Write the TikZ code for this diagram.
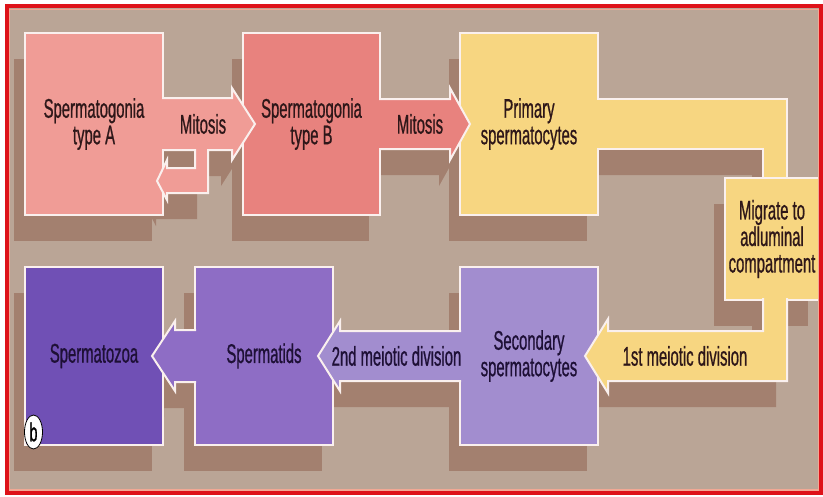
\documentclass[tikz,border=0pt]{standalone}
\usepackage{fontspec}
\newfontfamily\cellfont{Liberation Sans}[FakeStretch=0.55,FakeBold=0.7]
\usetikzlibrary{calc,shapes.geometric}
\pgfdeclarelayer{back}
\pgfsetlayers{back,main}
\definecolor{framered}{HTML}{DE1219}
\definecolor{framepink}{HTML}{F2A894}
\definecolor{groundc}{HTML}{BAA596}
\definecolor{shadowc}{HTML}{A3806F}
\definecolor{edgec}{HTML}{FAF0EE}
\definecolor{typeAc}{HTML}{F09C96}
\definecolor{typeBc}{HTML}{E8827E}
\definecolor{primc}{HTML}{F7D681}
\definecolor{secc}{HTML}{A28DCF}
\definecolor{tidc}{HTML}{8E6DC5}
\definecolor{zoac}{HTML}{7050B5}
\definecolor{inkwarm}{HTML}{2E1719}
\definecolor{inkcool}{HTML}{1E1036}
% block arrow: its shadow on the back layer, then the open outline
\newcommand{\blockarrow}[2]{%
  \begin{pgfonlayer}{back}
    \fill[shadowc,transform canvas={shift={(-11pt,-26pt)}}] #2;
  \end{pgfonlayer}
  \filldraw[outline,fill=#1] #2;}
\begin{document}
\begin{tikzpicture}[x=1pt,y=-1pt,
  cellbox/.style={rectangle,draw=edgec,line width=2pt,outer sep=0pt,inner sep=0pt,
    minimum width=138pt,minimum height=182pt,align=center,text=inkwarm,
    font=\cellfont\fontsize{27}{26.5}\selectfont},
  outline/.style={draw=edgec,line width=2pt,line join=miter},
  steptext/.style={inner sep=0pt,text=inkwarm,font=\cellfont\fontsize{27}{26.5}\selectfont},
  panelmark/.style={ellipse,draw=black,fill=white,line width=0.8pt,inner sep=0pt,
    minimum width=18pt,minimum height=34pt,font=\cellfont\fontsize{26}{26}\selectfont}]
  \useasboundingbox (0,0) rectangle (823,496);
  \begin{pgfonlayer}{back}
    \fill[white] (0,0) rectangle (823,496);
    \fill[groundc] (6,6) rectangle (821,493);
  \end{pgfonlayer}
  % top row
  \node[cellbox,fill=typeAc] (typeA) at (94,124) {Spermatogonia\\type A};
  \node[cellbox,fill=typeBc,minimum width=137pt] (typeB) at (311.5,124) {Spermatogonia\\type B};
  \node[cellbox,fill=primc] (primary) at (529,124) {Primary\\spermatocytes};
  % bottom row
  \node[cellbox,fill=zoac,minimum height=178pt,text=inkcool] (spermatozoa) at (94,356) {Spermatozoa};
  \node[cellbox,fill=tidc,minimum height=178pt,text=inkcool] (spermatids) at (264,356) {Spermatids};
  \node[cellbox,fill=secc,minimum height=178pt,text=inkcool] (secondary) at (529,356) {Secondary\\spermatocytes};

  % mitosis A -> B, with the loop back into A
  \blockarrow{typeAc}{($(typeA.east)+(-1,-26)$) -- ($(typeB.west)+(-11,-26)$) -- ($(typeB.west)+(-11,-36)$)
    -- ($(typeB.west)+(12,0)$) -- ($(typeB.west)+(-11,36)$) -- ($(typeB.west)+(-11,26)$)
    -- ($(typeA.east)+(45,26)$) -- ($(typeA.east)+(45,69)$) -- ($(typeA.east)+(4,69)$)
    -- ($(typeA.east)+(4,76)$) -- ($(typeA.east)+(-6,57)$) -- ($(typeA.east)+(4,36)$)
    -- ($(typeA.east)+(4,44)$) -- ($(typeA.east)+(32,44)$) -- ($(typeA.east)+(32,26)$)
    -- ($(typeA.east)+(-1,26)$)}
  % mitosis B -> primary
  \blockarrow{typeBc}{($(typeB.east)+(-1,-25)$) -- ($(primary.west)+(-10,-25)$) -- ($(primary.west)+(-10,-36)$)
    -- ($(primary.west)+(10,0)$) -- ($(primary.west)+(-10,36)$) -- ($(primary.west)+(-10,25)$)
    -- ($(typeB.east)+(-1,25)$)}
  % band to the adluminal compartment
  \blockarrow{primc}{($(primary.east)+(-1,-25)$) -- ($(primary.east)+(189,-25)$) -- ($(primary.east)+(189,80)$)
    -- ($(primary.east)+(165,80)$) -- ($(primary.east)+(165,25)$) -- ($(primary.east)+(-1,25)$)}
  \node[cellbox,fill=primc,minimum width=94pt,minimum height=122pt] (migrate) at (772,239) {Migrate to\\adluminal\\compartment};
  % 1st meiotic division
  \blockarrow{primc}{($(secondary.east)+(165,-58)$) -- ($(secondary.east)+(165,-25)$) -- ($(secondary.east)+(10,-25)$)
    -- ($(secondary.east)+(10,-37)$) -- ($(secondary.east)+(-13,0)$) -- ($(secondary.east)+(10,37)$)
    -- ($(secondary.east)+(10,25)$) -- ($(secondary.east)+(189,25)$) -- ($(secondary.east)+(189,-58)$)}
  % 2nd meiotic division
  \blockarrow{secc}{($(secondary.west)+(1,-25)$) -- ($(spermatids.east)+(7,-25)$) -- ($(spermatids.east)+(7,-35)$)
    -- ($(spermatids.east)+(-15,0)$) -- ($(spermatids.east)+(7,35)$) -- ($(spermatids.east)+(7,25)$)
    -- ($(secondary.west)+(1,25)$)}
  % spermatids -> spermatozoa
  \blockarrow{tidc}{($(spermatids.west)+(1,-26)$) -- ($(spermatozoa.east)+(12,-26)$) -- ($(spermatozoa.east)+(12,-35)$)
    -- ($(spermatozoa.east)+(-11,0)$) -- ($(spermatozoa.east)+(12,35)$) -- ($(spermatozoa.east)+(12,26)$)
    -- ($(spermatids.west)+(1,26)$)}

  \node[steptext] (mitosisA) at ($(typeA.east)!0.5!(typeB.west)$) {Mitosis};
  \node[steptext] (mitosisB) at ($(typeB.east)!0.5!(primary.west)$) {Mitosis};
  \node[steptext] (meiosisone) at ($(secondary.east)+(87,0)$) {1st meiotic division};
  \node[steptext,text=inkcool] (meiosistwo) at ($(spermatids.east)!0.5!(secondary.west)$) {2nd meiotic division};
  \node[panelmark] (panel) at (33.5,432) {b};

  \begin{pgfonlayer}{back}
    \foreach \n in {typeA,typeB,primary,migrate,secondary,spermatids,spermatozoa}
      \fill[shadowc] ([shift={(-11,26)}]\n.north west) rectangle ([shift={(-11,26)}]\n.south east);
  \end{pgfonlayer}
  \draw[framepink,line width=1.5pt] (9.5,9.5) rectangle (818.5,490);
  \draw[framered,line width=4pt] (6.5,6) rectangle (821,493);
\end{tikzpicture}
\end{document}
